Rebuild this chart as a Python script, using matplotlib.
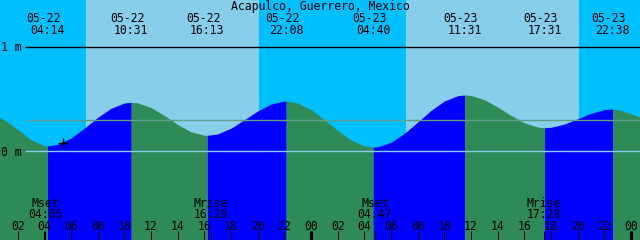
import matplotlib
matplotlib.use("Agg")
import matplotlib.pyplot as plt
import matplotlib.transforms as mtransforms
import numpy as np

# ---------------- data ----------------
title = "Acapulco, Guerrero, Mexico"

# hourly tide heights (m), hours since 05-22 00:00
hours = list(range(0, 50))
heights = [0.37, 0.30, 0.21, 0.11, 0.055, 0.066, 0.127, 0.221, 0.325, 0.412,
           0.463, 0.464, 0.420, 0.343, 0.257, 0.187, 0.154, 0.167, 0.221, 0.302,
           0.387, 0.453, 0.482, 0.463, 0.399, 0.304, 0.199, 0.108, 0.052, 0.044,
           0.086, 0.171, 0.280, 0.392, 0.482, 0.533, 0.535, 0.495, 0.425, 0.344,
           0.273, 0.232, 0.230, 0.261, 0.312, 0.364, 0.399, 0.400, 0.360, 0.310]

# tide extremes
ext_dates = ["05-22", "05-22", "05-22", "05-22", "05-23", "05-23", "05-23", "05-23"]
ext_times = ["04:14", "10:31", "16:13", "22:08", "04:40", "11:31", "17:31", "22:38"]
ext_heights = [0.051, 0.470, 0.153, 0.482, 0.041, 0.540, 0.226, 0.406]

# sun (day spans)
sunrise = ["05-22 07:07", "05-23 07:07"]
sunset = ["05-22 20:06", "05-23 20:06"]

# moon events
moon_names = ["Mset", "Mrise", "Mset", "Mrise"]
moon_times = ["05-22 04:05", "05-22 16:28", "05-23 04:47", "05-23 17:28"]

# current time mark
now_time = "05-22 05:25"
now_height = 0.084

# axis tick labels every 2 hours
tick_hours = list(range(2, 50, 2))
tick_labels = ["%02d" % (h % 24) for h in tick_hours]

# ---------------- helpers ----------------
def to_hours(d, t):
    day = int(d.split("-")[1]) - 22
    hh, mm = t.split(":")
    return day * 24 + int(hh) + int(mm) / 60.0

def parse(s):
    d, t = s.split()
    return to_hours(d, t)

W, H = 640, 240
T0 = 0.675
PXM = 104.3
ZROW = 151.3

fig = plt.figure(figsize=(W / 100, H / 100), dpi=100)
ax = fig.add_axes([0, 0, 1, 1])
ax.set_xlim(T0, T0 + 48)
ax.set_ylim((ZROW - H) / PXM, ZROW / PXM)
ax.set_axis_off()

NIGHT = "#00BFFF"
DAY = "#87CEEB"
FLOOD = "#0000FF"
EBB = "#2E8B57"

ax.axvspan(T0 - 1, T0 + 49, color=NIGHT, lw=0, zorder=0)
for sr, ss in zip(sunrise, sunset):
    ax.axvspan(parse(sr), parse(ss), color=DAY, lw=0, zorder=0.5)

# merge series
ext_t = [to_hours(d, t) for d, t in zip(ext_dates, ext_times)]
pts = sorted(list(zip(hours, heights)) + list(zip(ext_t, ext_heights)))
ts = np.array([p[0] for p in pts])
hs = np.array([p[1] for p in pts])
ybot = (ZROW - H - 5) / PXM

bounds = [ts[0]] + ext_t + [ts[-1]]
for i in range(len(bounds) - 1):
    a, b = bounds[i], bounds[i + 1]
    m = (ts >= a - 1e-9) & (ts <= b + 1e-9)
    if m.sum() < 2:
        continue
    seg_t, seg_h = ts[m], hs[m]
    rising = seg_h[-1] > seg_h[0]
    ax.fill_between(seg_t, seg_h, ybot, color=FLOOD if rising else EBB,
                    lw=0, antialiased=False, zorder=1)

# reference lines
x_start = T0 + 25 / (W / 48)
ax.plot([x_start, T0 + 48], [1, 1], color="black", lw=1.0, zorder=3,
        solid_capstyle="butt")
ax.plot([x_start, T0 + 48], [0, 0], color="#87CEEB", lw=1.0, zorder=3,
        solid_capstyle="butt")
msl = (ZROW - 120.3) / PXM
ax.plot([x_start, T0 + 48], [msl, msl], color="#5F9F8A", lw=1.0, zorder=3,
        solid_capstyle="butt")

# now mark
ax.plot([parse(now_time)], [now_height], marker="+", color="black",
        markersize=7, mew=1.0, zorder=4)

# text
FONT = dict(family="DejaVu Sans Mono", size=8.3, color="black")
blend = mtransforms.blended_transform_factory(ax.transData, fig.transFigure)

def ptext(x, row, s, dx=0, ha="center"):
    tr = mtransforms.offset_copy(blend, fig=fig, x=dx, y=0, units="dots")
    ax.text(x, 1 - row / H, s, transform=tr, ha=ha, va="baseline",
            zorder=5, **FONT)

fig.text(0.5, 1 - 10 / H, title, ha="center", va="baseline", **FONT)

for d, t, x in zip(ext_dates, ext_times, ext_t):
    ptext(x, 21.7, d, dx=-4)
    ptext(x, 34, t)

fig.text(1 / W, 1 - 51 / H, "1 m", ha="left", va="baseline", **FONT)
fig.text(1 / W, 1 - 155.5 / H, "0 m", ha="left", va="baseline", **FONT)

for name, s in zip(moon_names, moon_times):
    x = parse(s)
    ptext(x, 206.7, name)
    ptext(x, 218.3, s.split()[1])
    ax.plot([x, x], [1 - 230.5 / H, 0], transform=blend, color="black",
            lw=0.75, zorder=5, solid_capstyle="butt")

for th, lab in zip(tick_hours, tick_labels):
    ptext(th, 230, lab)
    thick = (th % 24 == 0)
    ax.plot([th, th], [1 - 230.7 / H, 0], transform=blend, color="black",
            lw=2.2 if thick else 0.75, zorder=5, solid_capstyle="butt")

fig.savefig("out.png", dpi=100)
